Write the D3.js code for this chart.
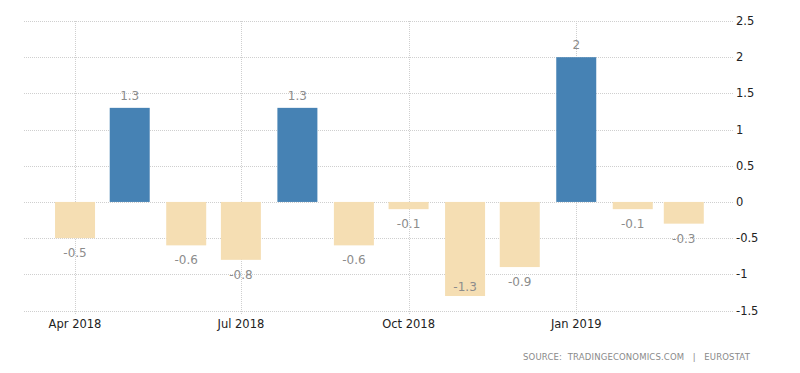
<!DOCTYPE html>
<html>
<head>
<meta charset="utf-8">
<script src="https://cdn.jsdelivr.net/npm/d3@7"></script>
<style>
  body { margin: 0; background: #fff; }
  svg { display: block; font-family: "DejaVu Sans", sans-serif; }
</style>
</head>
<body>
<div id="chart"></div>
<script>
// monthly change, Apr 2018 - Mar 2019
var months = ["2018-04", "2018-05", "2018-06", "2018-07", "2018-08", "2018-09",
              "2018-10", "2018-11", "2018-12", "2019-01", "2019-02", "2019-03"];
var values = [-0.5, 1.3, -0.6, -0.8, 1.3, -0.6, -0.1, -1.3, -0.9, 2, -0.1, -0.3];
var yTicks = [-1.5, -1, -0.5, 0, 0.5, 1, 1.5, 2, 2.5];
var xTicks = ["2018-04", "2018-07", "2018-10", "2019-01"];

var width = 800;
var height = 373;
var parse = d3.timeParse("%Y-%m");

var svg = d3.select("#chart").append("svg")
    .attr("width", width)
    .attr("height", height);

var x = d3.scaleTime()
    .domain([new Date(2018, 2, 4), new Date(2019, 2, 28)])
    .range([24, 733]);

var y = d3.scaleLinear()
    .domain([-1.5, 2.5])
    .range([310.5, 21]);

var barW = 40;

// horizontal grid
svg.append("g").selectAll("line")
    .data(yTicks)
    .enter().append("line")
    .attr("x1", 24)
    .attr("x2", 733)
    .attr("y1", function (d) { return Math.round(y(d)) + 0.5; })
    .attr("y2", function (d) { return Math.round(y(d)) + 0.5; })
    .attr("stroke", "#cfcfcf")
    .attr("stroke-dasharray", "1,1");

// vertical grid
svg.append("g").selectAll("line")
    .data(xTicks)
    .enter().append("line")
    .attr("x1", function (d) { return Math.round(x(parse(d))) + 0.5; })
    .attr("x2", function (d) { return Math.round(x(parse(d))) + 0.5; })
    .attr("y1", 21)
    .attr("y2", 314)
    .attr("stroke", "#cfcfcf")
    .attr("stroke-dasharray", "1,1");

// bars
svg.append("g").selectAll("rect")
    .data(values)
    .enter().append("rect")
    .attr("x", function (d, i) { return x(parse(months[i])) - barW / 2; })
    .attr("y", function (d) { return y(Math.max(0, d)); })
    .attr("width", barW)
    .attr("height", function (d) { return Math.abs(y(d) - y(0)); })
    .attr("fill", function (d) { return d > 0 ? "#4682b4" : "#f5deb3"; });

// value labels (kept inside the plot area, like the original)
svg.append("g").selectAll("text")
    .data(values)
    .enter().append("text")
    .attr("x", function (d, i) { return x(parse(months[i])); })
    .attr("y", function (d) { return d > 0 ? y(d) - 8 : Math.min(y(d) + 19, 291); })
    .attr("text-anchor", "middle")
    .attr("font-size", "12px")
    .attr("fill", "#8c8c8c")
    .text(function (d) { return d; });

// y axis labels on the right
svg.append("g").selectAll("text")
    .data(yTicks)
    .enter().append("text")
    .attr("x", 736)
    .attr("y", function (d) { return y(d) + 4; })
    .attr("font-size", "11.5px")
    .attr("fill", "#222")
    .text(function (d) { return d; });

// x axis labels
var fmt = d3.timeFormat("%b %Y");
svg.append("g").selectAll("text")
    .data(xTicks)
    .enter().append("text")
    .attr("x", function (d) { return x(parse(d)); })
    .attr("y", 328)
    .attr("text-anchor", "middle")
    .attr("font-size", "11.5px")
    .attr("fill", "#222")
    .text(function (d) { return fmt(parse(d)); });

svg.append("text")
    .attr("x", 750)
    .attr("y", 360)
    .attr("text-anchor", "end")
    .attr("font-size", "8.5px")
    .attr("letter-spacing", "0.15px")
    .attr("fill", "#8a8a8a")
    .attr("xml:space", "preserve")
    .style("white-space", "pre")
    .text("SOURCE:  TRADINGECONOMICS.COM   |   EUROSTAT");
</script>
</body>
</html>
